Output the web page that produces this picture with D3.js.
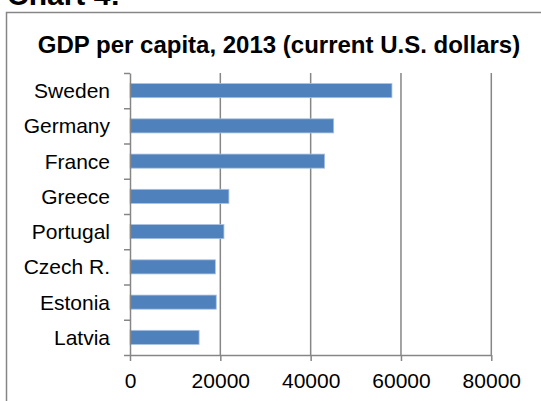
<!DOCTYPE html>
<html>
<head>
<meta charset="utf-8">
<script src="https://cdn.jsdelivr.net/npm/d3@7"></script>
<style>
  body { margin: 0; background: #fff; }
  svg { display: block; font-family: Arial, "Liberation Sans", sans-serif; }
  .axis path, .axis line { stroke: #868686; stroke-width: 1.5; }
  .axis text { fill: #000; font-size: 21px; }
  .grid line { stroke: #868686; stroke-width: 1.5; }
  .bar { fill: #4f81bd; stroke: #a9c1e0; stroke-width: 0.8; }
</style>
</head>
<body>
<div id="chart-container"></div>
<script>
const countries = ["Sweden", "Germany", "France", "Greece", "Portugal", "Czech R.", "Estonia", "Latvia"];
const gdpValues = [58000, 45100, 43100, 21900, 20800, 18900, 19100, 15300];
const xTicks = [0, 20000, 40000, 60000, 80000];

let chartWidth = 541, chartHeight = 401;
let plotMargin = {top: 73, right: 49.7, bottom: 46, left: 130};
let plotWidth = chartWidth - plotMargin.left - plotMargin.right,
  plotHeight = chartHeight - plotMargin.top - plotMargin.bottom;

let data = countries.map((c, i) => { return {country: c, value: gdpValues[i]}; });

let svg = d3.select("#chart-container").append("svg")
  .attr("width", chartWidth)
  .attr("height", chartHeight);

// page heading, cut off at top like the source
svg.append("text")
  .attr("x", 7)
  .attr("y", 5)
  .style("font-size", "30px")
  .style("font-weight", "bold")
  .text("Chart 4:");

// chart area border (right and bottom run off the picture)
svg.append("rect")
  .attr("x", 6.5)
  .attr("y", 12.5)
  .attr("width", 560)
  .attr("height", 420)
  .attr("fill", "none")
  .attr("stroke", "#868686")
  .attr("stroke-width", 1.5);

svg.append("text")
  .attr("x", 279)
  .attr("y", 53)
  .attr("text-anchor", "middle")
  .style("font-size", "24px")
  .style("font-weight", "bold")
  .text("GDP per capita, 2013 (current U.S. dollars)");

let canvas = svg.append("g")
  .attr("transform", `translate(${plotMargin.left}, ${plotMargin.top})`);

let xScale = d3.scaleLinear()
  .domain([0, 80000])
  .range([0, plotWidth]);

let yScale = d3.scaleBand()
  .domain(countries)
  .range([0, plotHeight])
  .paddingInner(0.6)
  .paddingOuter(0.3);

// vertical gridlines
canvas.append("g")
  .classed("grid", true)
  .selectAll("line")
  .data(xTicks.slice(1))
  .enter().append("line")
    .attr("x1", d => { return xScale(d); })
    .attr("x2", d => { return xScale(d); })
    .attr("y1", 0)
    .attr("y2", plotHeight);

canvas.selectAll(".bar")
  .data(data)
  .enter().append("rect")
    .classed("bar", true)
    .attr("x", 0)
    .attr("y", d => { return yScale(d.country); })
    .attr("width", d => { return xScale(d.value); })
    .attr("height", yScale.bandwidth());

// x axis
let xAxis = canvas.append("g")
  .classed("axis", true)
  .attr("transform", `translate(0, ${plotHeight})`)
  .call(d3.axisBottom(xScale).tickValues(xTicks).tickFormat(d3.format("d")).tickSize(6).tickSizeOuter(0).tickPadding(12));

// y axis: ticks on band boundaries, labels in band centres
let step = yScale.step();
let boundaryScale = d3.scaleLinear().domain([0, countries.length]).range([0, plotHeight]);
let yAxis = canvas.append("g")
  .classed("axis", true)
  .call(d3.axisLeft(boundaryScale).tickValues(d3.range(countries.length + 1)).tickFormat("").tickSize(6).tickSizeOuter(0));

canvas.append("g")
  .classed("axis", true)
  .selectAll("text")
  .data(countries)
  .enter().append("text")
    .attr("x", -20)
    .attr("y", d => { return yScale(d) + yScale.bandwidth() / 2; })
    .attr("dy", "0.36em")
    .attr("text-anchor", "end")
    .text(d => d);
</script>
</body>
</html>
